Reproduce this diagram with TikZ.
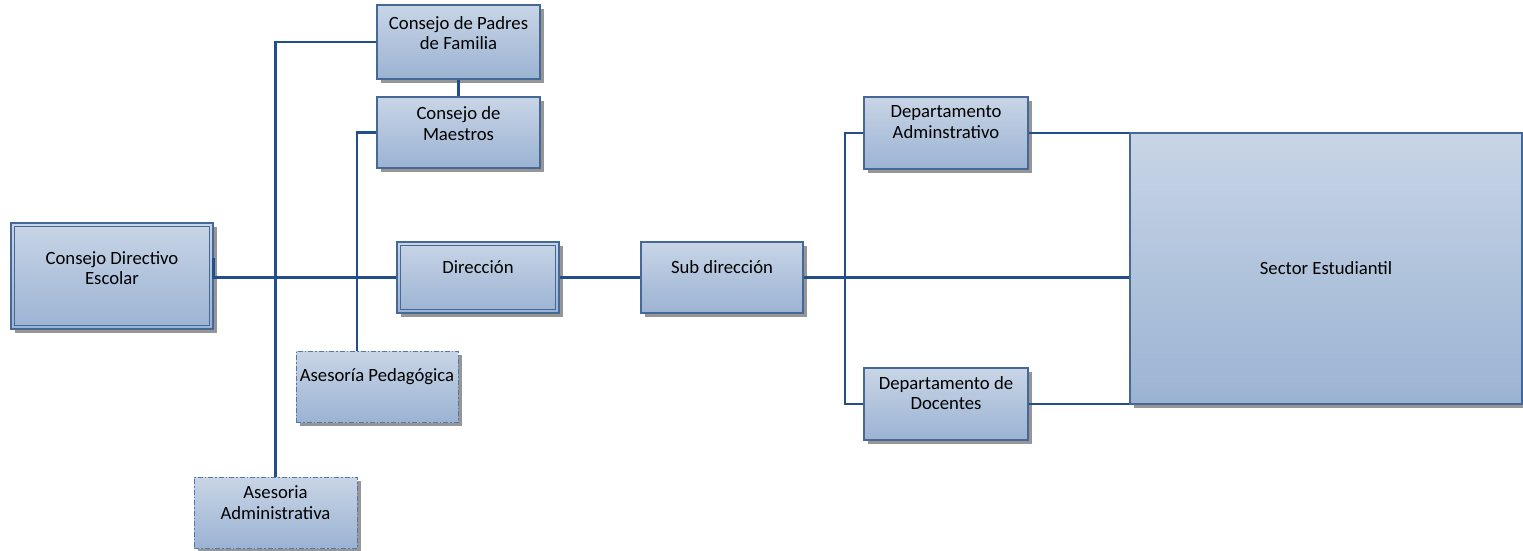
\documentclass[tikz,border=0pt]{standalone}
\usepackage{fontspec}
\setmainfont{Carlito}
\usetikzlibrary{shadows}
\definecolor{boxtop}{RGB}{200,213,230}
\definecolor{boxbot}{RGB}{155,179,211}
\definecolor{boxline}{RGB}{70,104,150}
\definecolor{dashline}{RGB}{80,120,170}
\definecolor{connc}{RGB}{35,78,140}
\definecolor{shadowc}{RGB}{150,150,150}
\begin{document}
\begin{tikzpicture}[x=1pt,y=-1pt,
  box/.style={draw=boxline, line width=1.1pt, top color=boxtop, bottom color=boxbot, rectangle, inner sep=0pt,
    drop shadow={shadow xshift=4pt, shadow yshift=-4pt, fill=shadowc, opacity=1}},
  dbox/.style={box, draw=dashline, dash pattern=on 5pt off 2pt on 1.5pt off 2pt, line width=1pt},
  txt/.style={align=center, font=\fontsize{18.7}{20.5}\selectfont, text=black},
  conn/.style={draw=connc, line width=2.2pt},
  inner/.style={draw=boxline, line width=1.1pt},
]
\useasboundingbox (0,0) rectangle (1523,550);

% boxes
\node[box, minimum width=202pt, minimum height=106pt,
  label={[txt, yshift=8pt]center:{Consejo Directivo\\Escolar}}] (cde) at (112,276) {};
\node[box, minimum width=163pt, minimum height=74pt,
  label={[txt, yshift=9pt]center:{Consejo de Padres\\de Familia}}] (cpf) at (458.5,42) {};
\node[box, minimum width=163pt, minimum height=71pt,
  label={[txt, yshift=9pt]center:{Consejo de\\Maestros}}] (cm) at (458.5,132.5) {};
\node[box, minimum width=162pt, minimum height=71pt,
  label={[txt, yshift=10pt]center:{Dirección}}] (dir) at (478,277.5) {};
\node[box, minimum width=162pt, minimum height=71pt,
  label={[txt, yshift=10pt]center:{Sub dirección}}] (sub) at (722,277.5) {};
\node[dbox, minimum width=162pt, minimum height=71pt,
  label={[txt, yshift=9.5pt]center:{Asesoría Pedagógica}}] (ap) at (377,386.5) {};
\node[dbox, minimum width=163pt, minimum height=71pt,
  label={[txt, yshift=10pt]center:{Asesoria\\Administrativa}}] (aa) at (275.5,512.5) {};
\node[box, minimum width=164pt, minimum height=72pt,
  label={[txt, yshift=11pt]center:{Departamento\\Adminstrativo}}] (da) at (946,133) {};
\node[box, minimum width=164pt, minimum height=72pt,
  label={[txt, yshift=11pt]center:{Departamento de\\Docentes}}] (dd) at (946,404) {};
\node[box, minimum width=392pt, minimum height=271pt,
  label={[txt]center:{Sector Estudiantil}}] (se) at (1326,268.5) {};

% inner borders of the double boxes
\draw[inner] ([shift={(4pt,-4pt)}]cde.north west) rectangle ([shift={(-4pt,4pt)}]cde.south east);
\draw[inner] ([shift={(4pt,-4pt)}]dir.north west) rectangle ([shift={(-4pt,4pt)}]dir.south east);

% connectors
\coordinate (bus) at (845,277);
\draw[conn] ([yshift=18pt]cde.east) -- (cde.east |- dir.west) -- (dir.west);
\draw[conn] (cpf.west) -| (aa.north);
\draw[conn] (cm.west) -| ([xshift=-20pt]ap.north);
\draw[conn] (cpf.south) -- (cm.north);
\draw[conn] (dir.east) -- (sub.west);
\draw[conn] (sub.east) -- (sub.east -| se.west);
\draw[conn] (da.west) -| (bus) |- (dd.west);
\draw[conn] (da.east) -- (da.east -| se.west);
\draw[conn] (dd.east) -- (dd.east -| se.west);
\end{tikzpicture}
\end{document}
